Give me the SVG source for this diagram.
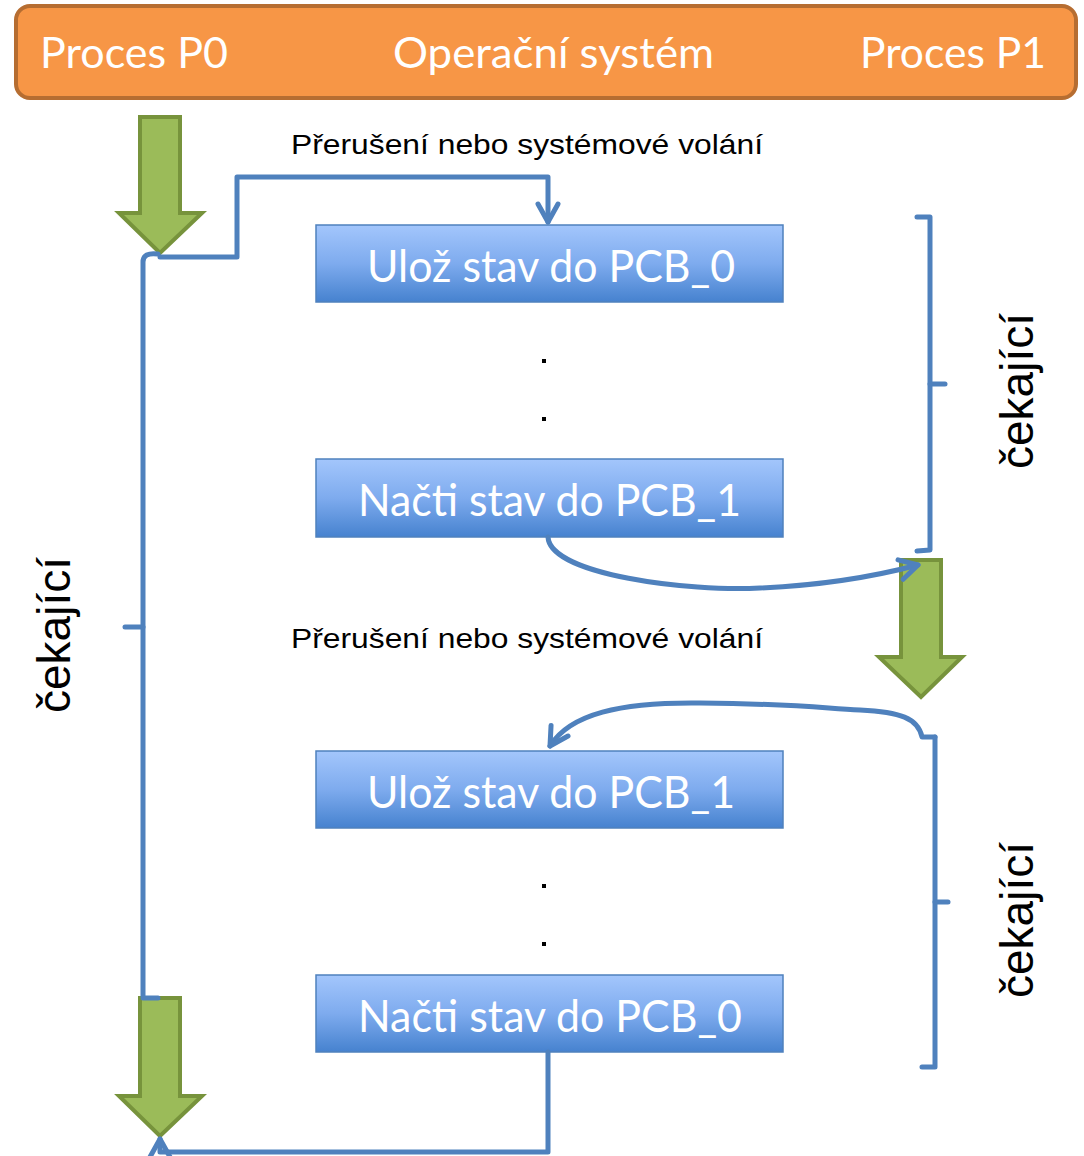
<svg xmlns="http://www.w3.org/2000/svg" width="1084" height="1156" viewBox="0 0 1084 1156">
<style>
.hdr{font-family:Lato,"Open Sans","Liberation Sans",sans-serif;font-size:42px;fill:#fff}
.box{fill:url(#bg);stroke:#4F81BD;stroke-width:1.5}
.bt{font-family:Lato,"Open Sans","Liberation Sans",sans-serif;font-size:45px;fill:#fff}
.lbl{font-family:"Liberation Sans",Arial,sans-serif;font-size:28px;fill:#000}
.wait{font-family:"Liberation Sans",Arial,sans-serif;font-size:46px;fill:#000}
.ga{fill:#9BBB59;stroke:#77933C;stroke-width:4}
.ln{fill:none;stroke:#4F81BD;stroke-width:5;stroke-linejoin:round;stroke-linecap:round}
</style>
<defs>
<linearGradient id="bg" x1="0" y1="0" x2="0" y2="1">
<stop offset="0" stop-color="#A3C6FC"/>
<stop offset="0.5" stop-color="#7EABEE"/>
<stop offset="1" stop-color="#4682CF"/>
</linearGradient>
<marker id="v" markerUnits="userSpaceOnUse" viewBox="0 0 24 24" markerWidth="24" markerHeight="24" refX="20" refY="12" orient="auto" overflow="visible">
<path d="M2,2 L20,12 L2,22" fill="none" stroke="#4F81BD" stroke-width="5" stroke-linecap="round" stroke-linejoin="round"/>
</marker>
</defs>

<g id="header">
<rect x="16" y="6" width="1060" height="92" rx="14" fill="#F79646" stroke="#B66D31" stroke-width="4"/>
<text class="hdr" x="40" y="68" textLength="188" lengthAdjust="spacingAndGlyphs">Proces P0</text>
<text class="hdr" x="393" y="68" textLength="321" lengthAdjust="spacingAndGlyphs">Operační systém</text>
<text class="hdr" x="860" y="68" textLength="186" lengthAdjust="spacingAndGlyphs">Proces P1</text>
</g>

<g id="arrow-p0-top"><polygon class="ga" points="140,117 180,117 180,213 202,213 160,253 119,213 140,213"/></g>
<g id="arrow-p1"><polygon class="ga" points="901,560 941,560 941,657 962,657 921,697 879,657 901,657"/></g>
<g id="arrow-p0-bottom"><polygon class="ga" points="140,998 180,998 180,1096 202,1096 160,1136 119,1096 140,1096"/></g>

<g id="label1"><text class="lbl" x="291" y="154" textLength="472" lengthAdjust="spacingAndGlyphs">Přerušení nebo systémové volání</text></g>
<g id="label2"><text class="lbl" x="291" y="648" textLength="472" lengthAdjust="spacingAndGlyphs">Přerušení nebo systémové volání</text></g>

<g id="box1"><rect class="box" x="316" y="225" width="467" height="77"/>
<text class="bt" x="367" y="282" textLength="368" lengthAdjust="spacingAndGlyphs">Ulož stav do PCB_0</text></g>
<g id="dots1"><rect x="542" y="359" width="4" height="4" fill="#000"/><rect x="542" y="417" width="4" height="4" fill="#000"/></g>
<g id="box2"><rect class="box" x="316" y="459" width="467" height="78"/>
<text class="bt" x="358" y="516" textLength="383" lengthAdjust="spacingAndGlyphs">Načti stav do PCB_1</text></g>
<g id="box3"><rect class="box" x="316" y="751" width="467" height="77"/>
<text class="bt" x="367" y="808" textLength="368" lengthAdjust="spacingAndGlyphs">Ulož stav do PCB_1</text></g>
<g id="dots2"><rect x="542" y="884" width="4" height="4" fill="#000"/><rect x="542" y="942" width="4" height="4" fill="#000"/></g>
<g id="box4"><rect class="box" x="316" y="975" width="467" height="77"/>
<text class="bt" x="358" y="1032" textLength="384" lengthAdjust="spacingAndGlyphs">Načti stav do PCB_0</text></g>

<g id="wait-left"><text class="wait" transform="translate(70,635) rotate(-90)" text-anchor="middle">čekající</text></g>
<g id="wait-right1"><text class="wait" transform="translate(1033,391) rotate(-90)" text-anchor="middle">čekající</text></g>
<g id="wait-right2"><text class="wait" transform="translate(1033,920) rotate(-90)" text-anchor="middle">čekající</text></g>

<g id="connectors">
<path class="ln" d="M160,257 L237,257 L237,177 L548,177 L548,222" marker-end="url(#v)"/>
<path class="ln" d="M158,254 Q143,252 143,262 L143,998 L158,998"/>
<path class="ln" d="M143,627 L125,627"/>
<path class="ln" d="M917,217 L930,217 L930,550 L917,551"/>
<path class="ln" d="M930,384 L945,384"/>
<path class="ln" d="M548,537 C550,575 690,592 760,588 C830,585 880,575 918,565" marker-end="url(#v)"/>
<path class="ln" d="M935,737 L922,737 C918,718 900,712 860,710 C820,708 800,704 700,703 C620,702 570,714 550,746" marker-end="url(#v)"/>
<path class="ln" d="M935,737 L935,1067 L922,1067"/>
<path class="ln" d="M935,902 L948,902"/>
<path class="ln" d="M548,1052 L548,1152 L160,1152 L160,1139" marker-end="url(#v)"/>
</g>
</svg>
